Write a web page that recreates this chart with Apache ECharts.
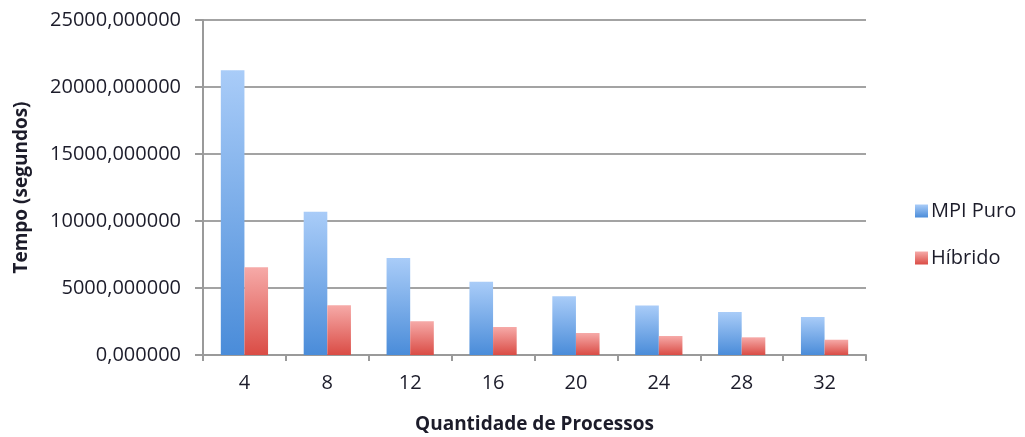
<!DOCTYPE html>
<html>
<head>
<meta charset="utf-8">
<script src="https://cdn.jsdelivr.net/npm/echarts@6/dist/echarts.min.js"></script>
<style>html,body{margin:0;padding:0;background:#fff;}#c{width:1025px;height:437px;}</style>
</head>
<body>
<div id="c"></div>
<script>
const categories = ['4','8','12','16','20','24','28','32'];
const mpiPuro = [21250, 10690, 7230, 5460, 4390, 3690, 3210, 2840];
const hibrido = [6550, 3710, 2520, 2090, 1640, 1420, 1320, 1140];
const seriesNames = ['MPI Puro', 'Híbrido'];

const chart = echarts.init(document.getElementById('c'), null, {renderer: 'canvas'});
const font = "'Open Sans', sans-serif";
const txt = '#1c1c2a';
function grad(top, bottom) {
  return new echarts.graphic.LinearGradient(0, 0, 0, 1, [
    {offset: 0, color: top}, {offset: 1, color: bottom}
  ]);
}
chart.setOption({
  animation: false,
  backgroundColor: '#fff',
  grid: {left: 203, right: 159, top: 20, bottom: 82, containLabel: false, outerBoundsMode: 'none'},
  legend: {
    orient: 'vertical', left: 910, top: 196,
    itemWidth: 13, itemHeight: 13, itemGap: 27,
    icon: 'rect',
    textStyle: {fontFamily: font, fontSize: 20, color: txt, padding: [0, 0, 0, -2]},
    data: seriesNames
  },
  xAxis: {
    type: 'category', data: categories,
    name: 'Quantidade de Processos', nameLocation: 'middle', nameGap: 60,
    nameTextStyle: {fontFamily: font, fontSize: 19, fontWeight: 'bold', color: txt},
    axisLine: {lineStyle: {color: '#9a9a9a', width: 2}},
    axisTick: {show: true, length: 6, lineStyle: {color: '#9a9a9a', width: 2}},
    axisLabel: {fontFamily: font, fontSize: 20, color: txt, margin: 18}
  },
  yAxis: {
    type: 'value', min: 0, max: 25000, interval: 5000,
    name: 'Tempo (segundos)', nameLocation: 'middle', nameGap: 172,
    nameTextStyle: {fontFamily: font, fontSize: 19, fontWeight: 'bold', color: txt},
    axisLine: {show: true, lineStyle: {color: '#9a9a9a', width: 2}},
    axisTick: {show: true, length: 8, lineStyle: {color: '#9a9a9a', width: 2}},
    splitLine: {lineStyle: {color: '#a3a3a3', width: 2}},
    axisLabel: {
      fontFamily: font, fontSize: 20, color: txt, margin: 22,
      formatter: v => v.toFixed(6).replace('.', ',')
    }
  },
  series: [
    {
      name: seriesNames[0], type: 'bar', data: mpiPuro,
      barGap: '0%', barCategoryGap: '43%',
      itemStyle: {color: grad('#a9ccf8', '#4a8cd9')}
    },
    {
      name: seriesNames[1], type: 'bar', data: hibrido,
      itemStyle: {color: grad('#f6aaa8', '#da4c45')}
    }
  ]
});
</script>
</body>
</html>
